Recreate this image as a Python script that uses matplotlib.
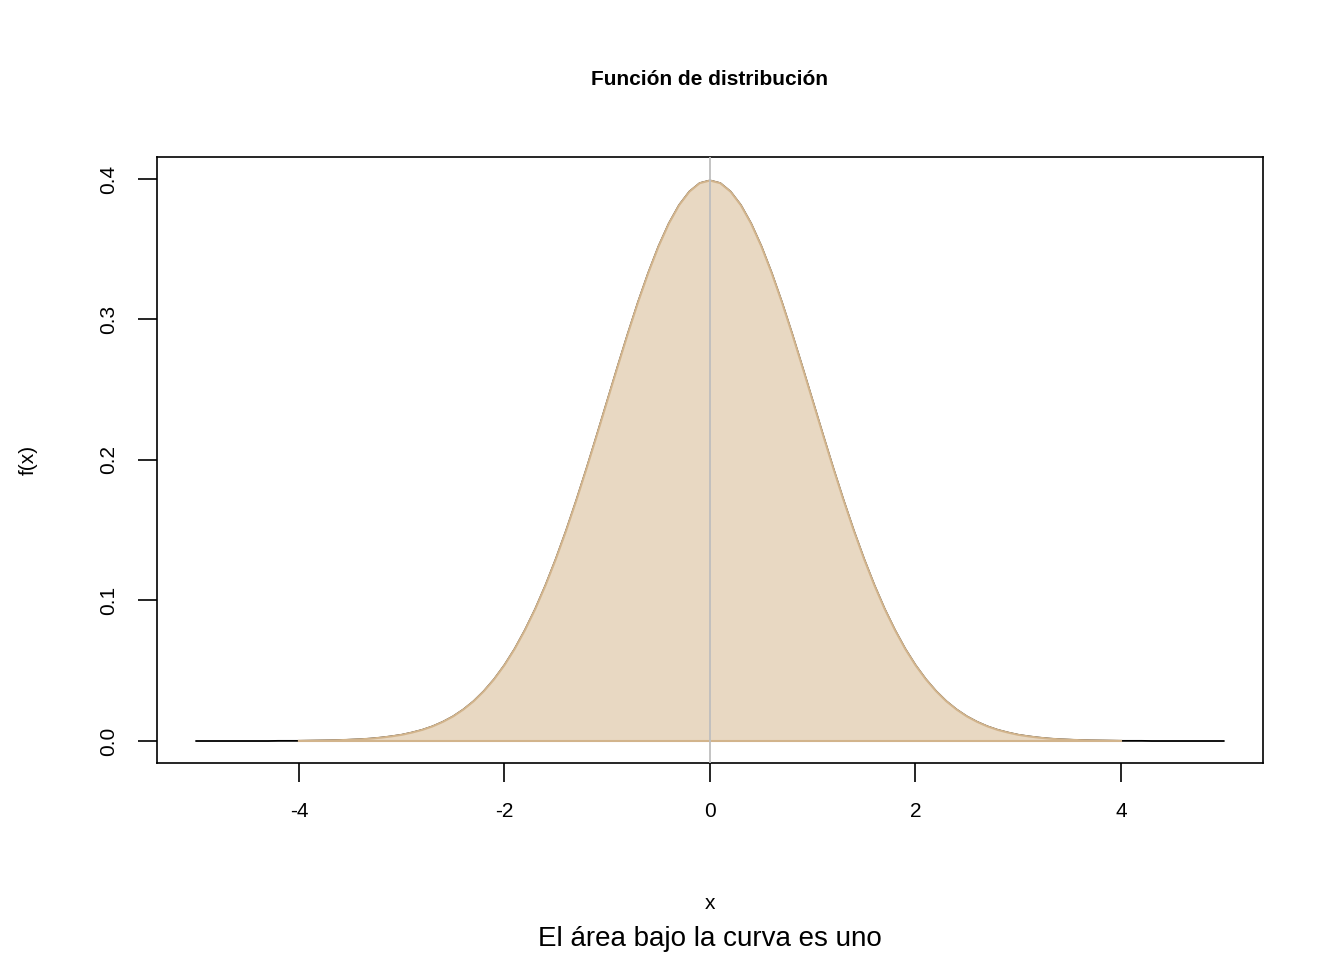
import matplotlib
matplotlib.use("Agg")
import matplotlib.pyplot as plt
import numpy as np

plt.rcParams['font.family'] = ['Liberation Sans', 'DejaVu Sans']

# density, x = 0.0 .. 5.0 step 0.1 (curve is symmetric)
x_half = [round(0.1 * i, 1) for i in range(51)]
y_half = [0.3989, 0.3970, 0.3910, 0.3814, 0.3683, 0.3521, 0.3332, 0.3123, 0.2897, 0.2661,
          0.2420, 0.2179, 0.1942, 0.1714, 0.1497, 0.1295, 0.1109, 0.0940, 0.0790, 0.0656,
          0.0540, 0.0440, 0.0355, 0.0283, 0.0224, 0.0175, 0.0136, 0.0104, 0.0079, 0.0060,
          0.0044, 0.0033, 0.0024, 0.0017, 0.0012, 0.0009, 0.0006, 0.0004, 0.0003, 0.0002,
          0.0001, 0.0001, 0.0001, 0.0, 0.0, 0.0, 0.0, 0.0, 0.0, 0.0, 0.0]
x_ticks = [-4, -2, 0, 2, 4]
y_ticks = [0.0, 0.1, 0.2, 0.3, 0.4]

x = np.array([-v for v in x_half[:0:-1]] + x_half)
y = np.array(y_half[:0:-1] + y_half)

fig = plt.figure(figsize=(13.44, 9.6), dpi=100)
ax = fig.add_axes([0.1168, 0.2052, 0.8229, 0.6313])

ax.plot(x, y, color='black', lw=1.3, zorder=1)
m = (x >= -4) & (x <= 4)
ax.fill_between(x[m], 0, y[m], facecolor='#E8D8C2', edgecolor='none', zorder=2)
ax.plot(x[m], y[m], color='#D2B48C', lw=1.5, zorder=3)
ax.plot([-4, 4], [0, 0], color='#D2B48C', lw=1.5, zorder=3)
ax.axvline(0, color='#BEBEBE', lw=1.3, zorder=4)

ax.set_xlim(-5.382, 5.382)
ax.set_ylim(-0.01566, 0.41566)
ax.set_xticks(x_ticks)
ax.set_xticklabels([str(t) for t in x_ticks])
ax.set_yticks(y_ticks)
ax.set_yticklabels([f"{t:.1f}" for t in y_ticks], rotation=90, va='center')
ax.tick_params(direction='out', length=14, width=1.2, labelsize=15, pad=14, colors='black')
for s in ax.spines.values():
    s.set_linewidth(1.2)

fig.text(0.528, 0.917, "Función de distribución", ha='center', va='center', fontsize=15, fontweight='bold')
fig.text(0.528, 0.059, "x", ha='center', va='center', fontsize=15)
fig.text(0.528, 0.022, "El área bajo la curva es uno", ha='center', va='center', fontsize=20)
fig.text(0.021, 0.521, "f(x)", ha='center', va='center', fontsize=15, rotation=90)

fig.savefig("out.png", dpi=100)
